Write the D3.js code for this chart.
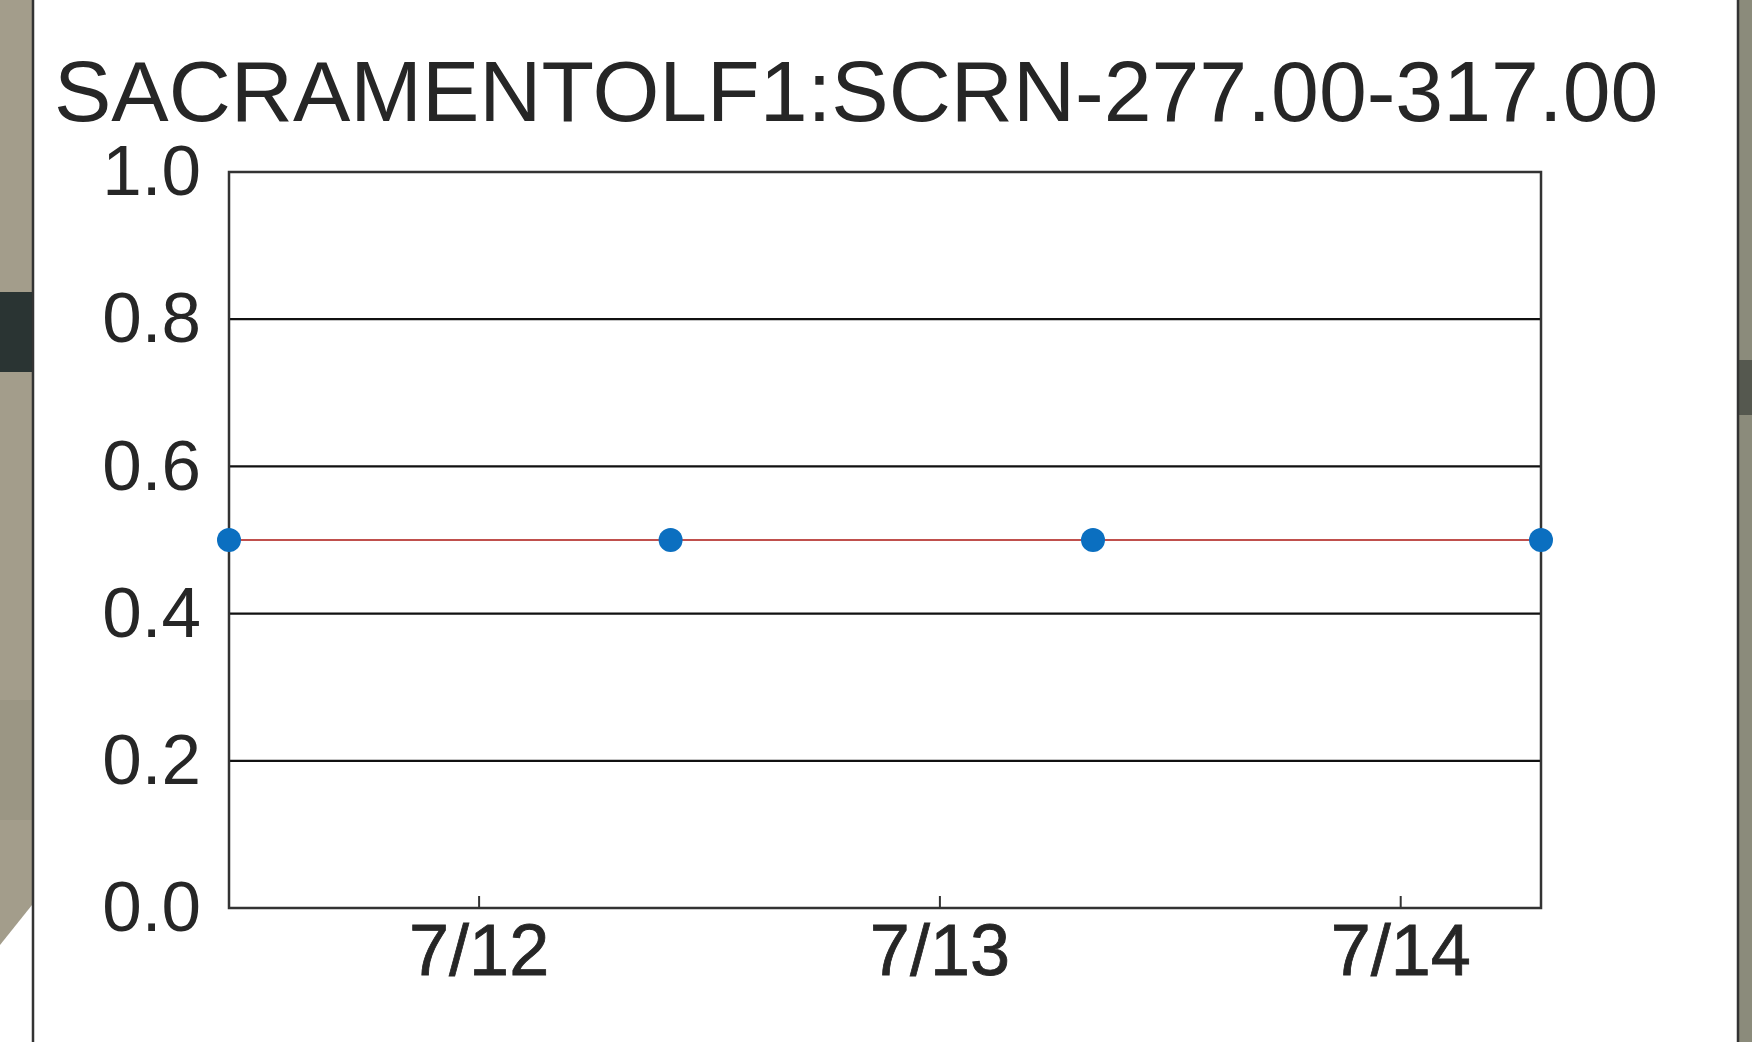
<!DOCTYPE html>
<html>
<head>
<meta charset="utf-8">
<script src="https://cdn.jsdelivr.net/npm/d3@7"></script>
<style>
  html, body { margin: 0; padding: 0; background: #fff; }
  svg { display: block; }
  text { font-family: "Liberation Sans", Arial, sans-serif; fill: #262626; }
</style>
</head>
<body>
<div id="chart"></div>
<script>
// data
var title = "SACRAMENTOLF1:SCRN-277.00-317.00";
var sampleTimes = ["2021-07-11T11:00", "2021-07-12T10:00", "2021-07-13T08:00", "2021-07-14T07:20"];
var sampleValues = [0.5, 0.5, 0.5, 0.5];
var xTickDates = ["2021-07-12T00:00", "2021-07-13T00:00", "2021-07-14T00:00"];
var xTickLabels = ["7/12", "7/13", "7/14"];
var yTicks = [0.0, 0.2, 0.4, 0.6, 0.8, 1.0];

var width = 1752, height = 1042;
var plot = { left: 229, top: 172, right: 1541, bottom: 908 };

var parseTime = d3.timeParse("%Y-%m-%dT%H:%M");
var points = sampleTimes.map(function (t, i) {
  return { date: parseTime(t), value: sampleValues[i] };
});

var svg = d3.select("#chart").append("svg")
  .attr("width", width)
  .attr("height", height);

// background photo strips around the white panel
svg.append("path")
  .attr("d", "M0,0 H32 V905 L0,945 Z")
  .attr("fill", "#a39d8b");
svg.append("rect").attr("x", 0).attr("y", 292).attr("width", 32).attr("height", 80).attr("fill", "#2a3433");
svg.append("rect").attr("x", 0).attr("y", 700).attr("width", 32).attr("height", 120).attr("fill", "#9b9684");
svg.append("line").attr("x1", 33).attr("x2", 33).attr("y1", 0).attr("y2", height)
  .attr("stroke", "#333").attr("stroke-width", 2.5);

svg.append("rect").attr("x", 1739).attr("y", 0).attr("width", 13).attr("height", height).attr("fill", "#8b8b7b");
svg.append("rect").attr("x", 1739).attr("y", 360).attr("width", 13).attr("height", 55).attr("fill", "#55584f");
svg.append("line").attr("x1", 1738).attr("x2", 1738).attr("y1", 0).attr("y2", height)
  .attr("stroke", "#333").attr("stroke-width", 2.5);

// scales
var x = d3.scaleTime()
  .domain(d3.extent(points, function (d) { return d.date; }))
  .range([plot.left, plot.right]);
var y = d3.scaleLinear()
  .domain([0, 1])
  .range([plot.bottom, plot.top]);

// title
svg.append("text")
  .attr("x", 54)
  .attr("y", 121)
  .attr("font-size", 86)
  .text(title);

// grid lines
svg.append("g")
  .selectAll("line")
  .data(yTicks.filter(function (d) { return d > 0 && d < 1; }))
  .enter().append("line")
  .attr("x1", plot.left).attr("x2", plot.right)
  .attr("y1", function (d) { return y(d); })
  .attr("y2", function (d) { return y(d); })
  .attr("stroke", "#111")
  .attr("stroke-width", 2.2);

// y axis labels
var yAxis = d3.axisLeft(y)
  .tickValues(yTicks)
  .tickSize(0)
  .tickPadding(28)
  .tickFormat(d3.format(".1f"));
var gy = svg.append("g")
  .attr("transform", "translate(" + plot.left + ",0)")
  .call(yAxis);
gy.select(".domain").remove();
gy.selectAll("text")
  .attr("font-size", 71)
  .attr("font-family", "Liberation Sans, Arial, sans-serif")
  .attr("fill", "#262626");

// x axis
var xAxis = d3.axisTop(x)
  .tickValues(xTickDates.map(parseTime))
  .tickSize(12)
  .tickFormat(function (d, i) { return xTickLabels[i]; });
var gx = svg.append("g")
  .attr("transform", "translate(0," + plot.bottom + ")")
  .call(xAxis);
gx.select(".domain").remove();
gx.selectAll(".tick line").attr("stroke", "#333").attr("stroke-width", 2);
gx.selectAll("text")
  .attr("y", 67)
  .attr("font-size", 72)
  .attr("font-family", "Liberation Sans, Arial, sans-serif")
  .attr("fill", "#262626")
  .attr("stroke", "#262626")
  .attr("stroke-width", 0.8);

// frame
svg.append("rect")
  .attr("x", plot.left).attr("y", plot.top)
  .attr("width", plot.right - plot.left)
  .attr("height", plot.bottom - plot.top)
  .attr("fill", "none")
  .attr("stroke", "#333")
  .attr("stroke-width", 2.5);

// series line
var line = d3.line()
  .x(function (d) { return x(d.date); })
  .y(function (d) { return y(d.value); });
svg.append("path")
  .datum(points)
  .attr("d", line)
  .attr("fill", "none")
  .attr("stroke", "#c0504d")
  .attr("stroke-width", 2);

// points
svg.append("g")
  .selectAll("circle")
  .data(points)
  .enter().append("circle")
  .attr("cx", function (d) { return x(d.date); })
  .attr("cy", function (d) { return y(d.value); })
  .attr("r", 12)
  .attr("fill", "#0b6fc0");
</script>
</body>
</html>
